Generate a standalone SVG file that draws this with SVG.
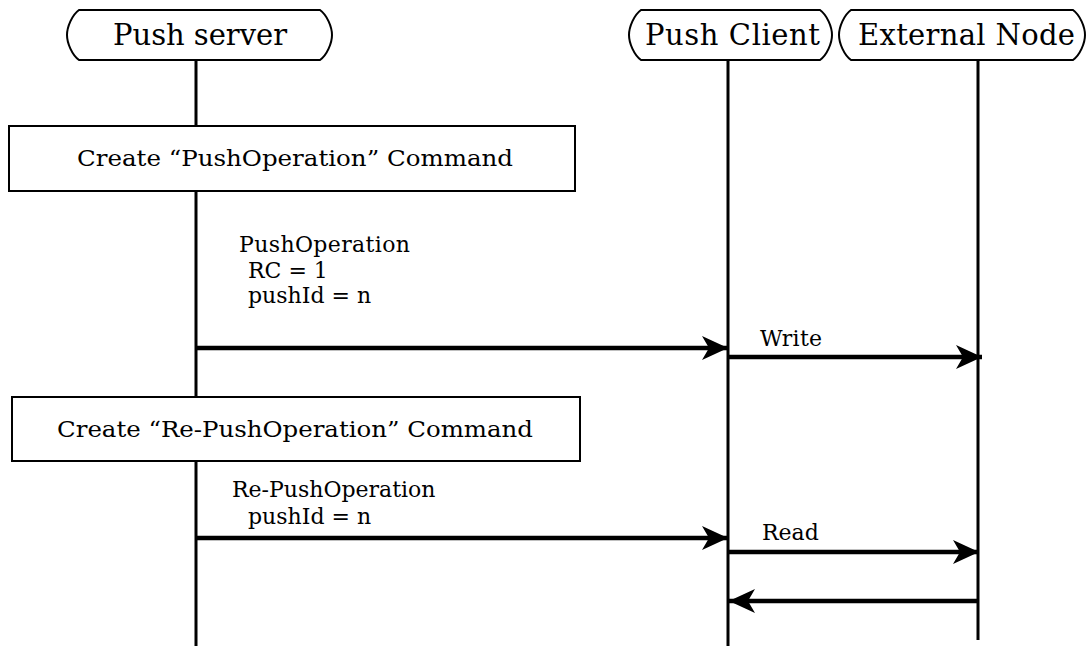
<svg xmlns="http://www.w3.org/2000/svg" width="1087" height="646" viewBox="0 0 1087 646">
<style>
text{font-family:"DejaVu Serif","Liberation Serif",serif;fill:#000}
.hd{font-size:29px}
.lb{font-size:22px}
.cb{font-size:23px}
.life{stroke:#000;stroke-width:3;fill:none}
.msg{stroke:#000;stroke-width:4.5;fill:none}
.box{fill:#fff;stroke:#000;stroke-width:2}
</style>
<defs>
<marker id="ah" markerUnits="userSpaceOnUse" markerWidth="28" markerHeight="28" viewBox="0 0 28 28" refX="26" refY="14" orient="auto">
<path d="M0,2 L26,14 L0,26 L7,14 Z" fill="#000"/>
</marker>
</defs>
<g id="lifelines">
<line class="life" x1="196" y1="60" x2="196" y2="646"/>
<line class="life" x1="728" y1="60" x2="728" y2="646"/>
<line class="life" x1="978" y1="60" x2="978" y2="640"/>
</g>
<g id="push-server">
<path class="box" d="M79,10 H320 C327,15 332,27 332,35 C332,43 327,55 320,60 H79 C72,55 67,43 67,35 C67,27 72,15 79,10 Z"/>
<text class="hd" x="200" y="45" text-anchor="middle" textLength="174">Push server</text>
</g>
<g id="push-client">
<path class="box" d="M641,10 H820 C827,15 832,27 832,35 C832,43 827,55 820,60 H641 C634,55 629,43 629,35 C629,27 634,15 641,10 Z"/>
<text class="hd" x="732.5" y="45" text-anchor="middle" textLength="175">Push Client</text>
</g>
<g id="external-node">
<path class="box" d="M851,10 H1073 C1080,15 1085,27 1085,35 C1085,43 1080,55 1073,60 H851 C844,55 839,43 839,35 C839,27 844,15 851,10 Z"/>
<text class="hd" x="966.5" y="45" text-anchor="middle" textLength="217">External Node</text>
</g>
<g id="create-push">
<rect class="box" x="9" y="126" width="566" height="65"/>
<text class="cb" x="295" y="166" text-anchor="middle" textLength="436" lengthAdjust="spacingAndGlyphs">Create “PushOperation” Command</text>
</g>
<g id="create-repush">
<rect class="box" x="12" y="397" width="568" height="64"/>
<text class="cb" x="295" y="437" text-anchor="middle" textLength="476" lengthAdjust="spacingAndGlyphs">Create “Re-PushOperation” Command</text>
</g>
<g id="connectors">
<line class="msg" x1="196" y1="348" x2="728" y2="348" marker-end="url(#ah)"/>
<line class="msg" x1="728" y1="357" x2="982" y2="357" marker-end="url(#ah)"/>
<line class="msg" x1="196" y1="538" x2="728" y2="538" marker-end="url(#ah)"/>
<line class="msg" x1="728" y1="552" x2="979" y2="552" marker-end="url(#ah)"/>
<line class="msg" x1="978" y1="601" x2="729" y2="601" marker-end="url(#ah)"/>
</g>
<g id="labels">
<text class="lb" x="239" y="252" textLength="171">PushOperation</text>
<text class="lb" x="248" y="278">RC = 1</text>
<text class="lb" x="248" y="303">pushId = n</text>
<text class="lb" x="760" y="346" textLength="62">Write</text>
<text class="lb" x="232" y="497">Re-PushOperation</text>
<text class="lb" x="248" y="524">pushId = n</text>
<text class="lb" x="762" y="540">Read</text>
</g>
</svg>
